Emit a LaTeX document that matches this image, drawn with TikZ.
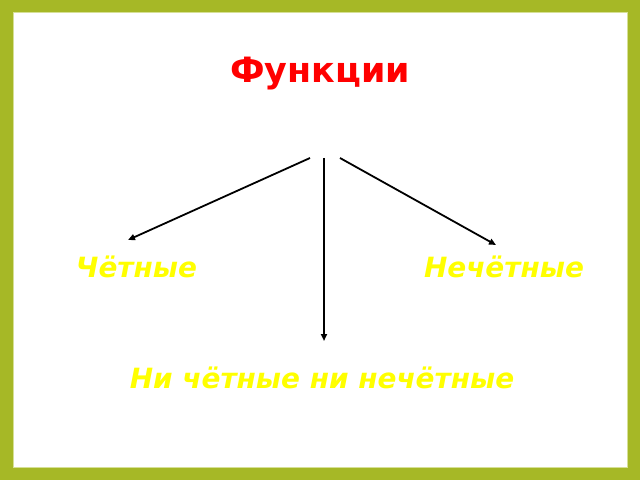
\documentclass[tikz,border=0pt]{standalone}
\usepackage{fontspec}
\setmainfont{DejaVu Sans}
\usetikzlibrary{arrows.meta}
\definecolor{frame}{RGB}{166,184,38}
\definecolor{frameedge}{RGB}{214,224,150}
\definecolor{ylw}{RGB}{255,255,0}
\begin{document}
\begin{tikzpicture}[x=1bp,y=-1bp,
  lbl/.style={font=\fontsize{28}{32}\selectfont\bfseries\itshape, text=ylw, inner sep=0pt, anchor=base},
  conn/.style={line width=1.8bp, -{Triangle[length=7bp,width=6bp]}}]
\useasboundingbox (0,0) rectangle (640,480);
\fill[frame] (0,0) rectangle (640,480);
\fill[white, draw=frameedge, line width=1bp] (13,13) rectangle (627,467);
\node[font=\fontsize{35}{40}\selectfont\bfseries, text=red, inner sep=0pt, anchor=base] (title) at (320,83) {Функции};
\node[lbl] (even) at (136.5,277) {Чётные};
\node[lbl] (odd) at (504,277) {Нечётные};
\node[lbl] (neither) at (322,388) {Ни чётные ни нечётные};
\coordinate (sL) at (310,158);
\coordinate (sM) at (324,158);
\coordinate (sR) at (340,158);
\coordinate (eL) at (128,240);
\coordinate (eM) at (324,341);
\coordinate (eR) at (496,245);
\draw[conn] (sL) -- (eL);
\draw[conn] (sM) -- (eM);
\draw[conn] (sR) -- (eR);
\end{tikzpicture}
\end{document}
